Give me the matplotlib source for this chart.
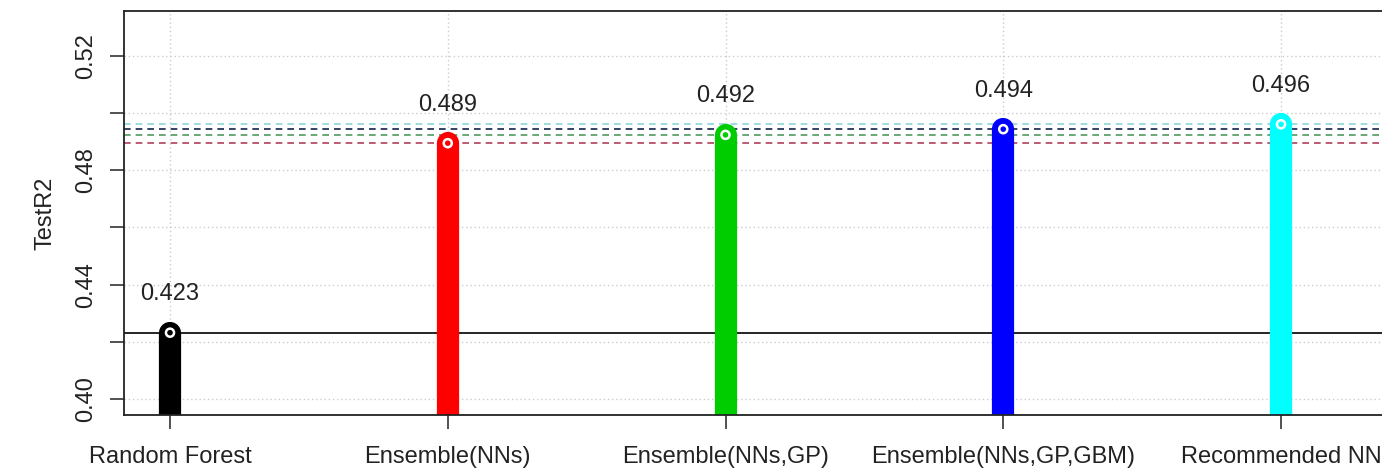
import matplotlib
matplotlib.use("Agg")
import matplotlib.pyplot as plt

# model results
models = ["Random Forest", "Ensemble(NNs)", "Ensemble(NNs,GP)",
          "Ensemble(NNs,GP,GBM)", "Recommended NN"]
test_r2 = [0.4232, 0.4895, 0.4924, 0.4944, 0.4961]
labels = ["0.423", "0.489", "0.492", "0.494", "0.496"]
bar_colors = ["black", "#ff0000", "#00cd00", "#0000ff", "#00ffff"]
line_colors = ["black", "#b0405a", "#4f9a60", "#14204a", "#8fd3da"]
y_ticks = [0.40, 0.42, 0.44, 0.46, 0.48, 0.50, 0.52]
y_labels = ["0.40", "", "0.44", "", "0.48", "", "0.52"]

plt.rcParams["font.family"] = ["Liberation Sans", "DejaVu Sans"]

W, H = 1382, 470
fig = plt.figure(figsize=(W / 100, H / 100), dpi=100)
# plot box runs off the right edge of the picture
left, right, top, bottom = 124, 1420, 11, 415
ax = fig.add_axes([left / W, (H - bottom) / H, (right - left) / W, (bottom - top) / H])

xs = list(range(1, len(models) + 1))
step = 277.75
ax.set_xlim(1 - (170 - left) / step, 1 + (right - 170) / step)
ppu = 57.17 / 0.02
ax.set_ylim(0.40 - (bottom - 399) / ppu, 0.52 + (56 - top) / ppu)

# grid
for y in y_ticks:
    ax.axhline(y, color="#cccccc", lw=1, ls=(0, (1, 2)), zorder=0)
for x in xs:
    ax.axvline(x, color="#cccccc", lw=1, ls=(0, (1, 2)), zorder=0)

# reference lines
for i, (v, c) in enumerate(zip(test_r2, line_colors)):
    ax.axhline(v, color=c, lw=1.2, ls="-" if i == 0 else (0, (4, 3)), zorder=1)

# lollipops
ax.vlines(xs, 0.35, test_r2, colors=bar_colors, linewidth=16,
          capstyle="round", zorder=2)
ax.scatter(xs, test_r2, s=34, facecolors=bar_colors, edgecolors="white",
           linewidths=1.8, zorder=3)

for x, v, t in zip(xs, test_r2, labels):
    ax.text(x, v + 0.0135, t, ha="center", va="center", fontsize=17, color="#222222")

ax.set_xticks(xs)
ax.set_xticklabels(models, fontsize=17)
ax.set_yticks(y_ticks)
ax.set_yticklabels(y_labels, fontsize=17, rotation=90, va="center")
ax.tick_params(axis="both", length=10, width=1.2, color="#333333", labelcolor="#222222")
ax.tick_params(axis="x", pad=12)
ax.tick_params(axis="y", pad=9)
ax.set_ylabel("TestR2", fontsize=17, color="#222222")
ax.yaxis.set_label_coords(-(124 - 57) / (right - left), 0.5)

for s in ax.spines.values():
    s.set_linewidth(1.3)
    s.set_color("#222222")
ax.spines["right"].set_visible(False)

fig.savefig("out.png", dpi=100)
